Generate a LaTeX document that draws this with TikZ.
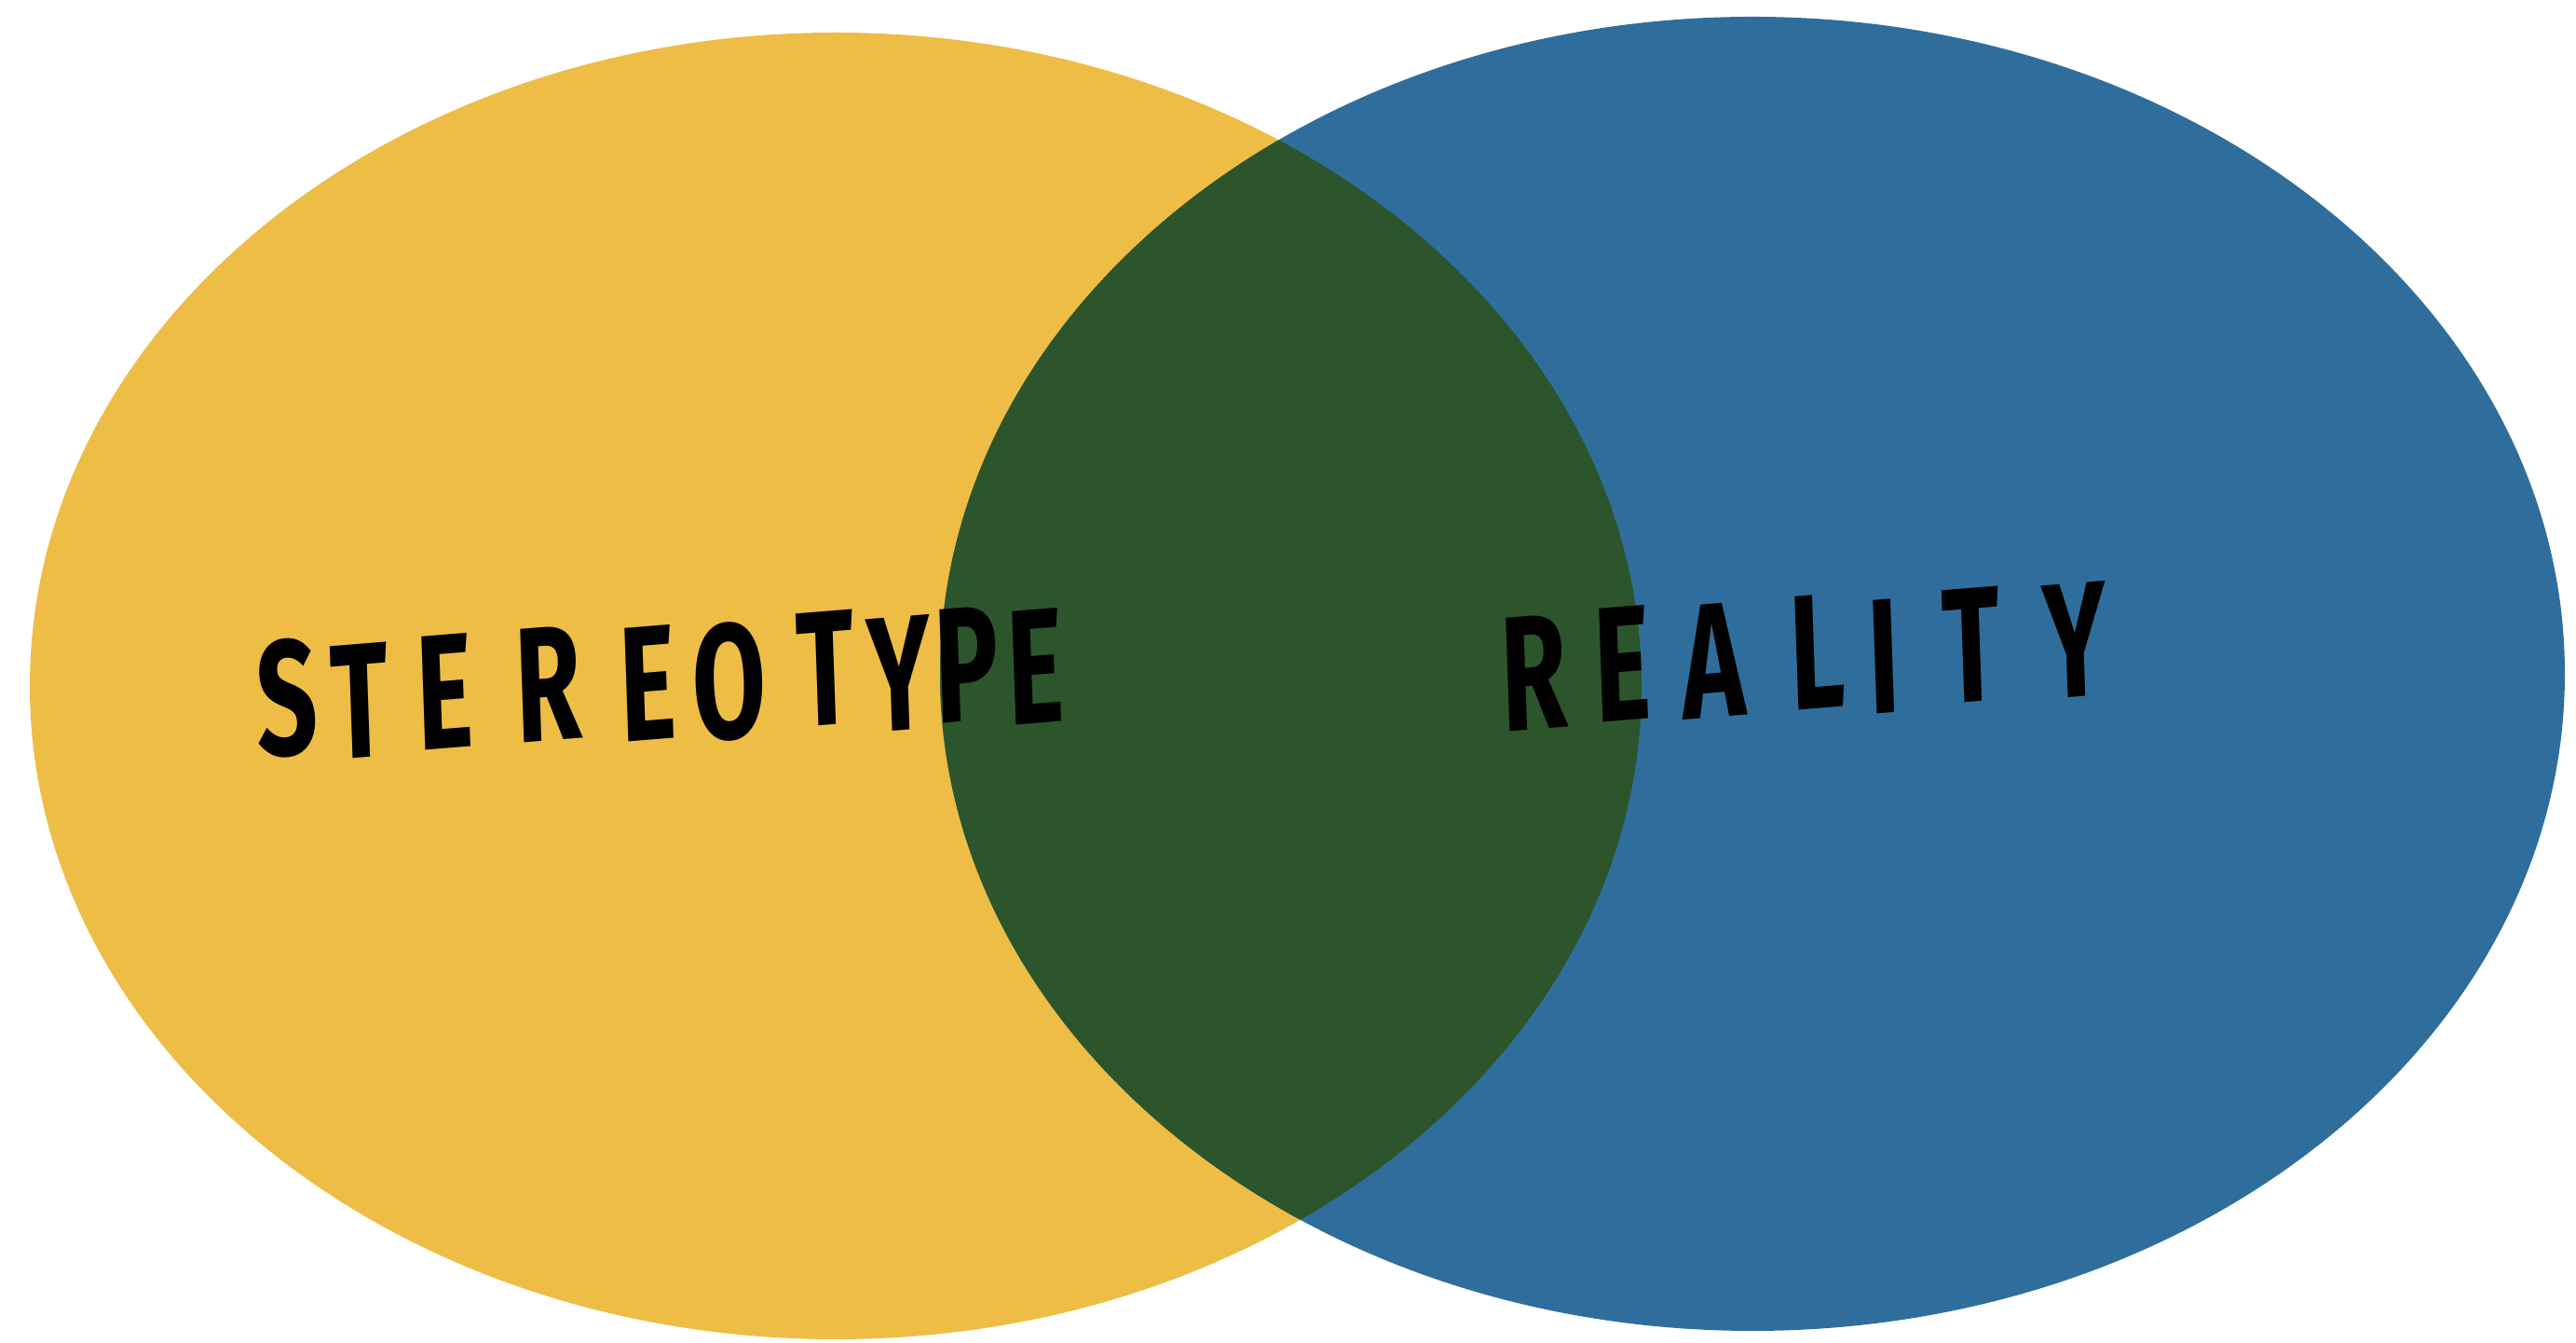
\documentclass[tikz,border=0pt]{standalone}
\usepackage{fontspec}
\setsansfont{Fira Sans}
\usetikzlibrary{positioning}

\definecolor{stereoyellow}{HTML}{EEBD45}
\definecolor{realityblue}{HTML}{2F6E9C}
\definecolor{overlapgreen}{HTML}{2C552B}

\tikzset{
  letter/.style={font=\sffamily\bfseries\fontsize{50}{56}\selectfont,
                 text=black, inner sep=0pt, xscale=0.65, rotate=3}
}

\begin{document}
\begin{tikzpicture}
  \useasboundingbox (0,0) rectangle (27.65,14.41);

  % the two sets
  \fill[stereoyellow] (8.97,7.05) ellipse [x radius=8.65, y radius=7.01];
  \fill[realityblue] (18.81,7.18) ellipse [x radius=8.72, y radius=7.05];

  % overlap
  \begin{scope}
    \clip (8.97,7.05) ellipse [x radius=8.65, y radius=7.01];
    \fill[overlapgreen] (18.81,7.18) ellipse [x radius=8.72, y radius=7.05];
  \end{scope}

  % labels, one letter at a time
  \foreach \ch/\x/\y [count=\i] in {S/3.08/6.92, T/3.86/6.89, E/4.77/6.99,
      R/5.89/7.07, E/6.95/7.08, O/7.83/7.09, T/8.86/7.24, Y/9.65/7.18,
      P/10.38/7.28, E/11.11/7.26}
    \node[letter] (s\i) at (\x,\y) {\ch};
  \foreach \ch/\x/\y [count=\i] in {R/16.47/7.19, E/17.41/7.29, A/18.39/7.32,
      L/19.51/7.42, I/20.22/7.37, T/21.16/7.49, Y/22.27/7.54}
    \node[letter] (r\i) at (\x,\y) {\ch};
\end{tikzpicture}
\end{document}
